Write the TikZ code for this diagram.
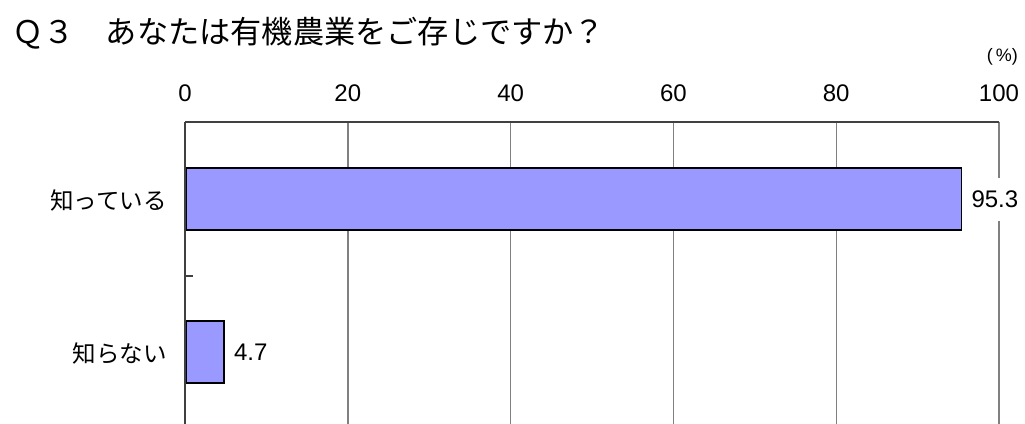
\documentclass[tikz,border=0pt]{standalone}
\usepackage{fontspec}
\setsansfont{Liberation Sans}
\newfontfamily\jpfont{Noto Sans CJK JP}
\usetikzlibrary{positioning,calc}
\definecolor{barblue}{RGB}{153,153,255}
\newcommand{\pxper}{8.14}
\tikzset{
	x=1pt, y=-1pt,
	bar/.style={draw=black, line width=1.6pt, fill=barblue, anchor=west, minimum height=62pt, inner sep=0pt},
	gridline/.style={draw=gray, line width=1.4pt},
	axisline/.style={draw=black!75, line width=1.6pt},
	ticklabel/.style={font=\sffamily\fontsize{24}{24}\selectfont, inner sep=0pt},
	valuelabel/.style={font=\sffamily\fontsize{24}{24}\selectfont, fill=white, anchor=west, inner sep=4pt, minimum height=43pt},
	catlabel/.style={font=\jpfont\fontsize{23.5}{23.5}\selectfont, anchor=east, inner sep=0pt}
}

\begin{document}
\begin{tikzpicture}
    \useasboundingbox (0,0) rectangle (1025,423);
    \node[font=\jpfont\fontsize{31.2}{31.2}\selectfont, anchor=west, inner sep=0pt] (title) at (12,33) {Ｑ３　あなたは有機農業をご存じですか？};
    \node[font=\sffamily\fontsize{18}{18}\selectfont, anchor=east, inner sep=0pt] (unit) at (1018,57) {(\,\%)};

    % scale and grid
    \foreach \v in {0,20,...,100} {
        \coordinate (top\v) at ({185+\v*\pxper},122);
        \coordinate (bot\v) at ({185+\v*\pxper},430);
        \node[ticklabel] (t\v) at ({185+\v*\pxper},93.5) {\v};
        \draw[gridline] (top\v) -- (bot\v);
    }
    \draw[axisline] (top0) -- (top100);

    \node[bar, minimum width=95.3*\pxper pt] (know) at (185,199) {};
    \node[bar, minimum width=4.7*\pxper pt] (notknow) at (185,352) {};

    \node[valuelabel, right=5pt of know.east, anchor=west] (vknow) {95.3};
    \node[valuelabel, right=5pt of notknow.east, anchor=west] (vnotknow) {4.7};

    \draw[axisline] (top0) -- (bot0);
    \coordinate (mid) at (185,276);
    \draw[axisline, line width=1.2pt] (mid) -- ++(8,0);

    \node[catlabel] (cknow) at (167,201) {知っている};
    \node[catlabel] (cnotknow) at (167,354) {知らない};
\end{tikzpicture}
\end{document}
